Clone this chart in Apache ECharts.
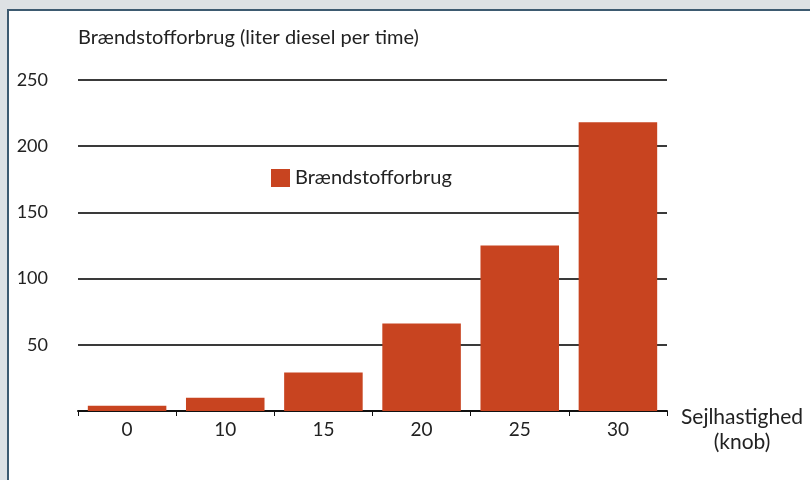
<!DOCTYPE html>
<html>
<head>
<meta charset="utf-8">
<script src="https://cdn.jsdelivr.net/npm/echarts@6/dist/echarts.min.js"></script>
<style>
html,body{margin:0;padding:0;background:#dde1e4;width:810px;height:480px;overflow:hidden;}
#frame{position:absolute;left:7px;top:9px;width:820px;height:490px;background:#fff;border-left:2px solid #3d5a70;border-top:2px solid #3d5a70;}
#chart{position:absolute;left:0;top:0;width:810px;height:480px;}
</style>
</head>
<body>
<div id="frame"></div>
<div id="chart"></div>
<script>
const categories = ['0', '10', '15', '20', '25', '30'];
const fuelValues = [4, 10, 29, 66, 125, 218];
const seriesName = 'Brændstofforbrug';
const yAxisTitle = 'Brændstofforbrug (liter diesel per time)';
const xAxisTitle = ['Sejlhastighed', '(knob)'];
const yTicks = [0, 50, 100, 150, 200, 250];

const font = 'Lato, "Liberation Sans", sans-serif';
const chart = echarts.init(document.getElementById('chart'), null, {renderer: 'canvas'});
chart.setOption({
  backgroundColor: 'transparent',
  animation: false,
  textStyle: {fontFamily: font},
  grid: {left: 78, right: 143, top: 80, bottom: 69, containLabel: false},
  legend: {
    show: true,
    left: 266, top: 163,
    icon: 'rect',
    itemWidth: 19, itemHeight: 18, itemGap: 8,
    textStyle: {fontFamily: font, fontSize: 20, color: '#222'},
    data: [seriesName]
  },
  xAxis: {
    type: 'category',
    data: categories,
    axisLine: {show: true, lineStyle: {color: '#111', width: 2}},
    axisTick: {show: true, length: 5, lineStyle: {color: '#111', width: 1}},
    axisLabel: {fontFamily: font, fontSize: 19, color: '#222', margin: 9}
  },
  yAxis: {
    type: 'value',
    min: yTicks[0], max: yTicks[yTicks.length - 1], interval: 50,
    name: yAxisTitle,
    nameLocation: 'end',
    nameGap: 42,
    nameTextStyle: {fontFamily: font, fontSize: 20, color: '#222', align: 'left', verticalAlign: 'middle'},
    axisLine: {show: false},
    axisTick: {show: false},
    axisLabel: {
      fontFamily: font, fontSize: 18, color: '#222', margin: 30,
      formatter: v => v === 0 ? '' : String(v)
    },
    splitLine: {show: true, lineStyle: {color: '#3a3a3a', width: 2}}
  },
  graphic: [{
    type: 'text',
    x: 742, y: 405,
    style: {
      text: xAxisTitle.join('\n'),
      fontFamily: font, fontSize: 21, lineHeight: 25,
      fill: '#222', align: 'center', verticalAlign: 'top'
    },
    z: 10
  }],
  series: [{
    name: seriesName,
    type: 'bar',
    data: fuelValues,
    barCategoryGap: '20%',
    itemStyle: {color: '#c84420'}
  }]
});
</script>
</body>
</html>
